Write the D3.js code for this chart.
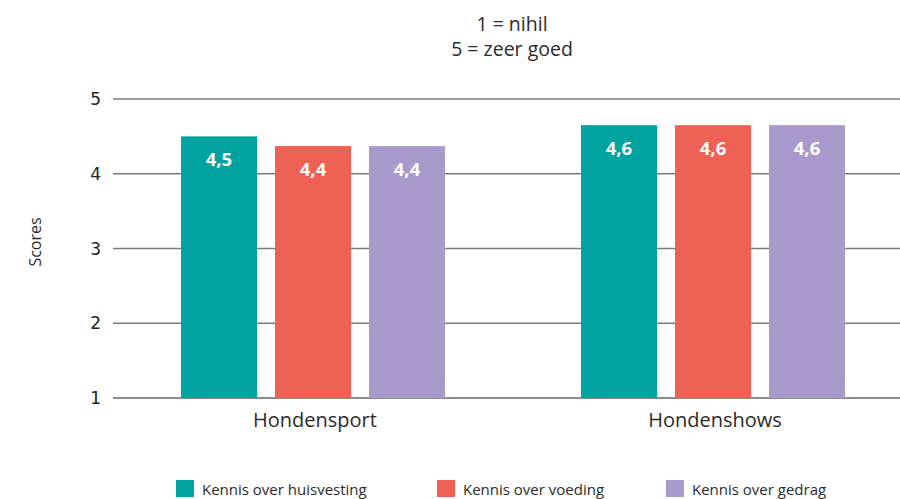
<!DOCTYPE html>
<html><head><meta charset="utf-8">
<script src="https://cdn.jsdelivr.net/npm/d3@7"></script>
<style>body{margin:0;background:#fff}svg{display:block}</style>
</head><body>
<svg id="c" width="900" height="499"></svg>
<script>
const categories = ["Hondensport", "Hondenshows"];
const series = ["Kennis over huisvesting", "Kennis over voeding", "Kennis over gedrag"];
const huisvesting = [4.5, 4.65];
const voeding = [4.37, 4.65];
const gedrag = [4.37, 4.65];
const valueLabels = [["4,5", "4,6"], ["4,4", "4,6"], ["4,4", "4,6"]];
const yTicks = [1, 2, 3, 4, 5];
const colors = ["#00A3A0", "#EE6155", "#A89BCC"];
const titleLines = ["1 = nihil", "5 = zeer goed"];
const yTitle = "Scores";

const values = [huisvesting, voeding, gedrag];
const svg = d3.select("#c");
const textFont = "'Open Sans', 'DejaVu Sans', sans-serif";
const textColor = "#2b2b2b";

const x0 = d3.scaleBand().domain(categories).range([113, 913]);
const x1 = d3.scaleBand().domain(series).range([68, 332]).paddingInner(0.1915);
const y = d3.scaleLinear().domain([1, 5]).range([398, 99]);

// gridlines
svg.append("g").selectAll("line").data(yTicks).join("line")
  .attr("x1", 113).attr("x2", 900)
  .attr("y1", d => y(d)).attr("y2", d => y(d))
  .attr("stroke", d => d === 1 ? "#666" : "#7a7a7a").attr("stroke-width", 1.4);

// tick labels
svg.append("g").selectAll("text").data(yTicks).join("text")
  .attr("x", 101).attr("y", d => y(d)).attr("dy", "0.36em")
  .attr("text-anchor", "end")
  .style("font-family", "'DejaVu Sans', sans-serif").style("font-size", "17px").attr("fill", "#222")
  .text(d => d);

// bars
const g = svg.append("g").selectAll("g").data(categories).join("g")
  .attr("transform", d => `translate(${x0(d)},0)`);
series.forEach((s, si) => {
  g.append("rect")
    .attr("x", x1(s)).attr("width", x1.bandwidth())
    .attr("y", (d, ci) => y(values[si][ci]))
    .attr("height", (d, ci) => y(1) - y(values[si][ci]))
    .attr("fill", colors[si]);
  g.append("text")
    .attr("x", x1(s) + x1.bandwidth() / 2)
    .attr("y", (d, ci) => y(values[si][ci]) + 30)
    .attr("text-anchor", "middle")
    .style("font-family", "'Open Sans', 'DejaVu Sans', sans-serif")
    .style("font-weight", "bold").style("font-size", "18.5px").attr("fill", "#fff")
    .text((d, ci) => valueLabels[si][ci]);
});

// category labels
svg.append("g").selectAll("text").data(categories).join("text")
  .attr("x", d => x0(d) + x0.bandwidth() / 2 + 2).attr("y", 427)
  .attr("text-anchor", "middle")
  .style("font-family", textFont).style("font-size", "20px").attr("fill", textColor)
  .text(d => d);

// title
svg.append("g").selectAll("text").data(titleLines).join("text")
  .attr("x", 512).attr("y", (d, i) => 31 + i * 24.5)
  .attr("text-anchor", "middle")
  .style("font-family", textFont).style("font-size", "19.5px").attr("fill", textColor)
  .text(d => d);

// y title
svg.append("text")
  .attr("transform", "translate(41,242) rotate(-90)")
  .attr("text-anchor", "middle")
  .style("font-family", textFont).style("font-size", "16px").attr("fill", textColor)
  .text(yTitle);

// legend
const legendX = [176, 437, 666];
const lg = svg.append("g").selectAll("g").data(series).join("g")
  .attr("transform", (d, i) => `translate(${legendX[i]},480)`);
lg.append("rect").attr("width", 18).attr("height", 17).attr("fill", (d, i) => colors[i]);
lg.append("text").attr("x", 26).attr("y", 14.5)
  .style("font-family", textFont).style("font-size", "15px").attr("fill", textColor)
  .text(d => d);
</script>
</body></html>
